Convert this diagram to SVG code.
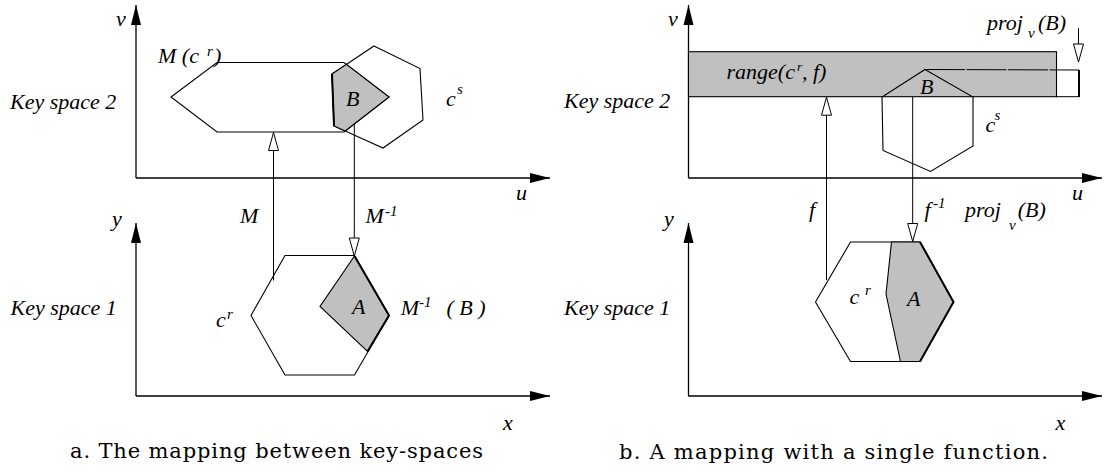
<svg xmlns="http://www.w3.org/2000/svg" width="1104" height="474" viewBox="0 0 1104 474">
<style>
  .bg { fill: #ffffff; }
  .ax { stroke: #000; stroke-width: 1.3; fill: none; }
  .sh { stroke: #000; stroke-width: 1.1; fill: none; stroke-linejoin: miter; }
  .rg { stroke: #000; stroke-width: 1.1; fill: #c0c0c0; }
  .rgt { stroke: #000; stroke-width: 1.1; fill: #c0c0c0; }
  .thick { stroke: #000; stroke-width: 2; fill: none; }
  .cn { stroke: #000; stroke-width: 1; fill: none; }
  .lb { font-family: "Liberation Serif", "Times New Roman", serif; font-style: italic; font-size: 22px; fill: #000; }
  .sup { font-family: "Liberation Serif", "Times New Roman", serif; font-style: italic; font-size: 15px; fill: #000; }
  .cap { font-family: "DejaVu Serif", "Liberation Serif", serif; font-size: 21px; fill: #000; }
</style>
<defs>
  <marker id="axh" markerUnits="userSpaceOnUse" markerWidth="22" markerHeight="12" refX="20" refY="5" orient="auto" overflow="visible">
    <path d="M0,0 L20,5 L0,10 z" fill="#000"/>
  </marker>
  <marker id="oh" markerUnits="userSpaceOnUse" markerWidth="20" markerHeight="12" refX="18" refY="5" orient="auto" overflow="visible">
    <path d="M0,0 L18,5 L0,10 z" fill="#fff" stroke="#000" stroke-width="1"/>
  </marker>
</defs>
<rect class="bg" x="0" y="0" width="1104" height="474"/>

<!-- ============ Panel a ============ -->
<g id="a-keyspace2">
  <line class="ax" x1="136" y1="178" x2="136" y2="5" marker-end="url(#axh)"/>
  <line class="ax" x1="136" y1="178" x2="550" y2="178" marker-end="url(#axh)"/>
  <text class="lb" x="116" y="26">v</text>
  <text class="lb" x="516" y="200">u</text>
  <text class="lb" x="10" y="109">Key space 2</text>
</g>
<g id="a-Mcr">
  <polygon class="sh" points="171,97 217,62.5 344,62.5 389,97 344,132 217,132"/>
  <text class="lb" x="158" y="63">M (c</text>
  <text class="sup" x="207" y="56">r</text>
  <text class="lb" x="214" y="63">)</text>
</g>
<g id="a-cs">
  <polygon class="sh" points="374,46 420,68.5 423,120 383,148 334,126 332,74"/>
  <text class="lb" x="446" y="106">c</text>
  <text class="sup" x="457" y="94">s</text>
</g>
<g id="a-B">
  <polygon class="rg" points="332,74 346.4,64.4 389,97 345.2,131 334,126"/>
  <line class="thick" x1="332" y1="74" x2="334" y2="126" stroke-width="1.6"/>
  <text class="lb" x="346" y="105.5">B</text>
</g>
<g id="a-keyspace1">
  <line class="ax" x1="136" y1="396" x2="136" y2="223" marker-end="url(#axh)"/>
  <line class="ax" x1="136" y1="396" x2="550" y2="396" marker-end="url(#axh)"/>
  <text class="lb" x="112" y="226">y</text>
  <text class="lb" x="503" y="430">x</text>
  <text class="lb" x="10.5" y="315">Key space 1</text>
</g>
<g id="a-cr">
  <polygon class="sh" points="251,315.5 285,255.5 354.5,255.5 389,315.5 354.5,375 285,375"/>
  <text class="lb" x="216" y="327">c</text>
  <text class="sup" x="227" y="318.5">r</text>
</g>
<g id="a-A">
  <polygon class="rg" points="354.5,256 389,315.5 367.5,351.5 320,306.5"/>
  <polyline class="thick" points="354.5,256 389,315.5 367.5,351.5" stroke-width="1.8"/>
  <text class="lb" x="352" y="314">A</text>
  <text class="lb" x="400.7" y="315.3">M</text>
  <text class="sup" x="419" y="307">-1</text>
  <text class="lb" x="446.4" y="315.3">( B )</text>
</g>

<!-- ============ Panel b ============ -->
<g id="b-keyspace2">
  <line class="ax" x1="688.5" y1="178" x2="688.5" y2="5" marker-end="url(#axh)"/>
  <line class="ax" x1="688.5" y1="178" x2="1102" y2="178" marker-end="url(#axh)"/>
  <text class="lb" x="668" y="26">v</text>
  <text class="lb" x="1072" y="200">u</text>
  <text class="lb" x="564" y="108">Key space 2</text>
</g>
<g id="b-range">
  <rect class="rgt" x="688.5" y="51.7" width="368" height="45"/>
  <text class="lb" x="726.5" y="79" font-size="19">range(c<tspan dx="2" dy="-8" font-size="13">r</tspan><tspan dy="8">, f)</tspan></text>
</g>
<g id="b-cs">
  <polygon class="sh" points="925,69.5 973,97 973,146 930.5,171.5 883,150.5 882,97"/>
  <text class="lb" x="920" y="93.5">B</text>
  <text class="lb" x="985.5" y="131.7">c</text>
  <text class="sup" x="994.5" y="120">s</text>
</g>
<g id="b-proj">
  <line class="cn" x1="925" y1="69.5" x2="1079" y2="70" stroke-dasharray="40 1.5"/>
  <line class="cn" x1="1056" y1="96.7" x2="1079" y2="96.7"/>
  <line class="thick" x1="1079" y1="70" x2="1079" y2="97"/>
  <text class="lb" x="987" y="30">proj</text>
  <text class="sup" x="1028" y="37.5">v</text>
  <text class="lb" x="1038" y="30">(B)</text>
</g>
<g id="b-keyspace1">
  <line class="ax" x1="688.5" y1="396" x2="688.5" y2="223" marker-end="url(#axh)"/>
  <line class="ax" x1="688.5" y1="396" x2="1102" y2="396" marker-end="url(#axh)"/>
  <text class="lb" x="664" y="226">y</text>
  <text class="lb" x="1055.5" y="430.3">x</text>
  <text class="lb" x="564" y="314.7">Key space 1</text>
</g>
<g id="b-cr">
  <polygon class="sh" points="815.5,302 850.5,242 920,242 953.5,302 920,361.5 850.5,361.5"/>
  <text class="lb" x="849.5" y="304">c</text>
  <text class="sup" x="865" y="295">r</text>
</g>
<g id="b-A">
  <polygon class="rg" points="891.5,242 920,242 953.5,302 920,361.5 900.5,361.5 886,294"/>
  <polyline class="thick" points="920,242 953.5,302 920,361.5" stroke-width="1.6"/>
  <text class="lb" x="907" y="306">A</text>
</g>

<!-- ============ Connectors ============ -->
<g id="connectors">
  <line class="cn" x1="273.5" y1="280.5" x2="273.5" y2="132.5" marker-end="url(#oh)"/>
  <line class="cn" x1="354.3" y1="124" x2="354.3" y2="256" marker-end="url(#oh)"/>
  <line class="cn" x1="826.5" y1="280" x2="826.5" y2="97.2" marker-end="url(#oh)"/>
  <line class="cn" x1="912.7" y1="97" x2="912.7" y2="241.5" marker-end="url(#oh)"/>
  <line class="cn" x1="1078.5" y1="28" x2="1078.5" y2="62" marker-end="url(#oh)"/>
  <text class="lb" x="240" y="223">M</text>
  <text class="lb" x="365.5" y="223">M</text>
  <text class="sup" x="385" y="215.5">-1</text>
  <text class="lb" x="809" y="216.7">f</text>
  <text class="lb" x="924.5" y="216.7">f</text>
  <text class="sup" x="933" y="208">-1</text>
  <text class="lb" x="965" y="216.7">proj</text>
  <text class="sup" x="1009" y="230">v</text>
  <text class="lb" x="1017.7" y="216.7">(B)</text>
</g>

<g id="captions">
  <text class="cap" x="70" y="458" textLength="413" lengthAdjust="spacing">a. The mapping between key-spaces</text>
  <text class="cap" x="619" y="459" textLength="429" lengthAdjust="spacing">b. A mapping with a single function.</text>
</g>
</svg>
